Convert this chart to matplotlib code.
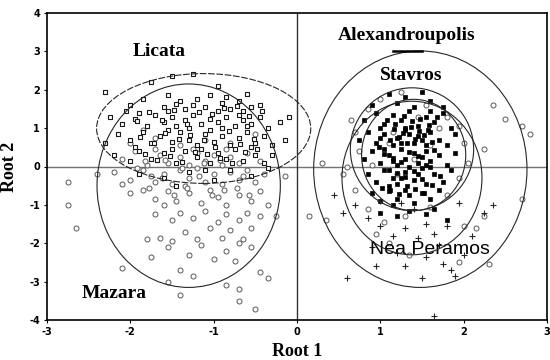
import numpy as np
import matplotlib.pyplot as plt
from matplotlib.patches import Ellipse

# group scores (root 1, root 2)
licata_x = [-1.5, -1.25, -0.95, -1.75, -2.3, -0.6, -1.05,
            -2.0, -1.85, -1.6, -1.4, -1.25, -1.1, -0.9, -0.8, -0.7, -0.55, -0.45, -1.55, -1.35, -0.95, -0.65,
            -2.25, -2.1, -1.95, -1.8, -1.7, -1.6, -1.5, -1.45, -1.35, -1.25, -1.15, -1.05, -0.95, -0.85, -0.75,
            -0.65, -0.55, -0.45, -0.35, -0.2, -1.9, -1.3, -0.9, -0.1, -2.05, -1.55, -0.7,
            -2.3, -2.15, -2.0, -1.85, -1.75, -1.65, -1.5, -1.4, -1.3, -1.2, -1.1, -1.0, -0.9, -0.8, -0.7, -0.6,
            -0.5, -0.4, -0.3, -0.15, -1.95, -1.55, -1.05, -0.55,
            -2.2, -2.0, -1.9, -1.75, -1.6, -1.45, -1.35, -1.2, -1.05, -0.95, -0.85, -0.75, -0.65, -0.5, -0.4,
            -0.3, -1.5, -1.15,
            -1.9, -1.6, -1.3, -1.0, -0.8, -0.55, -0.35, -1.45, -1.1,
            -1.92, -1.78, -1.62, -1.48, -1.32, -1.18, -1.02, -0.88, -0.72, -0.58, -0.42,
            -1.88, -1.72, -1.58, -1.42, -1.28, -1.12, -0.98, -0.82, -0.68, -0.52,
            -1.82, -1.68, -1.52, -1.38, -1.22, -1.08, -0.92, -0.78, -0.62, -0.48,
            -1.2, -0.85, -1.45, -0.6]
licata_y = [2.35, 2.4, 2.1, 2.2, 1.95, 1.9, 1.85,
            1.6, 1.75, 1.55, 1.7, 1.6, 1.55, 1.65, 1.5, 1.7, 1.55, 1.6, 1.85, 1.5, 1.45, 1.45,
            1.3, 1.1, 1.25, 1.05, 1.35, 1.15, 1.3, 1.05, 1.2, 1.35, 1.1, 1.25, 1.15, 1.3, 1.05,
            1.2, 1.1, 1.3, 1.0, 1.15, 1.4, 1.0, 1.0, 1.3, 1.45, 1.45, 1.35,
            0.6, 0.85, 0.7, 0.9, 0.6, 0.8, 0.65, 0.9, 0.7, 0.55, 0.85, 0.65, 0.8, 0.55, 0.75, 0.9,
            0.6, 0.8, 0.55, 0.7, 0.5, 0.95, 0.95, 0.5,
            0.3, 0.15, 0.4, 0.2, 0.35, 0.1, 0.4, 0.25, 0.1, 0.35, 0.2, 0.45, 0.15, 0.3, 0.1,
            0.3, 0.45, 0.45,
            -0.2, -0.3, -0.15, -0.35, -0.1, -0.25, -0.05, -0.5, -0.1,
            1.18, 1.42, 1.22, 1.48, 1.12, 1.42, 1.38, 1.52, 1.58, 1.32, 1.45,
            0.78, 0.62, 0.88, 0.72, 0.82, 0.68, 0.52, 0.92, 0.58, 0.72,
            0.32, 0.18, 0.28, 0.12, 0.38, 0.32, 0.22, 0.08, 0.38, 0.45,
            1.75, 1.82, 1.62, 1.05]

mazara_x = [-2.0, -1.7, -1.4, -1.1, -0.8, -0.5, -1.85,
            -2.1, -1.95, -1.8, -1.65, -1.55, -1.4, -1.3, -1.2, -1.1, -1.0, -0.9, -0.8, -0.7, -0.6, -0.45,
            -1.7, -1.25, -0.85,
            -2.2, -2.0, -1.85, -1.7, -1.6, -1.5, -1.4, -1.3, -1.2, -1.1, -1.0, -0.9, -0.8, -0.7, -0.6, -0.5,
            -0.4, -1.75, -1.35,
            -2.0, -1.85, -1.7, -1.55, -1.45, -1.3, -1.15, -1.05, -0.95, -0.85, -0.7, -0.55, -0.45, -0.35, -1.6,
            -1.7, -1.5, -1.4, -1.25, -1.1, -0.95, -0.85, -0.7, -0.6, -0.45, -0.25,
            -1.8, -1.65, -1.5, -1.35, -1.2, -1.05, -0.9, -0.8, -0.65, -0.55, -0.7,
            -1.75, -1.55, -1.3, -1.15, -1.0, -0.85, -0.75, -0.55,
            -2.1, -1.4, -1.25, -1.55, -0.85, -0.7, -1.4, -0.7, -0.5, -0.35, -0.45,
            -2.75, -2.75, -2.65, -2.4, -2.1, 0.15, -0.15,
            -1.92, -1.78, -1.62, -1.48, -1.32, -1.18, -1.02, -0.88, -0.72, -0.58,
            -1.82, -1.58, -1.38, -1.12, -0.92, -0.65]
mazara_y = [0.6, 0.75, 0.55, 0.7, 0.6, 0.85, 0.95,
            0.2, 0.4, 0.05, 0.3, 0.1, 0.25, 0.05, 0.35, 0.15, 0.3, 0.05, 0.25, 0.1, 0.35, 0.15,
            0.45, 0.45, 0.45,
            -0.15, -0.35, -0.1, -0.4, -0.2, -0.45, -0.1, -0.3, -0.05, -0.4, -0.2, -0.45, -0.15, -0.35, -0.1, -0.4,
            -0.2, -0.25, -0.5,
            -0.7, -0.6, -0.85, -0.65, -0.9, -0.7, -0.95, -0.6, -0.8, -1.0, -0.75, -0.9, -0.65, -1.0, -1.0,
            -1.25, -1.4, -1.2, -1.35, -1.15, -1.45, -1.25, -1.4, -1.2, -1.3, -1.3,
            -1.9, -1.85, -1.95, -1.7, -1.9, -1.6, -1.85, -1.65, -1.9, -1.6, -2.0,
            -2.35, -2.1, -2.3, -2.05, -2.4, -2.2, -2.45, -2.1,
            -2.65, -2.7, -2.85, -3.0, -3.1, -3.2, -3.35, -3.5, -3.7, -2.9, -2.75,
            -0.4, -1.0, -1.6, -0.2, -0.45, -1.3, -0.25,
            -0.05, -0.55, -0.3, -0.75, -0.55, -0.25, -0.75, -0.6, -0.55, -0.75,
            0.15, 0.18, -0.05, 0.08, 0.18, -0.25]

stavros_x = [1.1, 1.3, 1.5, 1.2, 1.4, 1.6, 0.9, 1.75,
             0.8, 0.95, 1.05, 1.15, 1.25, 1.35, 1.45, 1.55, 1.65, 1.75, 1.85, 1.0, 1.3, 1.6,
             0.75, 0.85, 0.95, 1.05, 1.15, 1.2, 1.3, 1.4, 1.45, 1.55, 1.6, 1.7, 1.8, 1.9, 1.0, 1.25, 1.5, 1.35,
             0.8, 0.9, 1.0, 1.1, 1.2, 1.25, 1.3, 1.4, 1.45, 1.55, 1.6, 1.7, 1.8, 1.9, 1.15, 1.35, 1.5, 1.05,
             0.85, 0.95, 1.05, 1.15, 1.2, 1.3, 1.4, 1.5, 1.55, 1.65, 1.75, 1.85, 1.25, 1.45, 1.1,
             0.9, 1.0, 1.1, 1.2, 1.3, 1.4, 1.5, 1.6, 1.7, 1.35, 1.15,
             1.0, 1.2, 1.35, 1.55, 1.8, 1.65,
             1.08, 1.18, 1.28, 1.38, 1.48, 1.58, 1.68, 1.12, 1.22, 1.32, 1.42, 1.52, 1.62,
             1.05, 1.15, 1.25, 1.35, 1.45, 1.55, 1.65, 1.1, 1.2, 1.3, 1.4, 1.5, 1.6,
             1.02, 1.12, 1.22, 1.32, 1.42, 1.52, 1.62, 1.17, 1.27, 1.37, 1.47, 1.57, 0.98, 1.72]
stavros_y = [1.9, 1.8, 1.95, 1.65, 1.55, 1.7, 1.6, 1.55,
             1.2, 1.4, 1.1, 1.35, 1.2, 1.45, 1.05, 1.3, 1.15, 1.4, 1.0, 1.0, 1.0, 1.45,
             0.7, 0.9, 0.6, 0.85, 0.55, 0.75, 0.95, 0.6, 0.8, 0.55, 0.9, 0.7, 0.55, 0.85, 0.75, 0.6, 0.7, 0.85,
             0.2, 0.4, 0.1, 0.3, 0.05, 0.45, 0.2, 0.35, 0.1, 0.4, 0.15, 0.3, 0.05, 0.35, 0.15, 0.0, 0.25, 0.45,
             -0.2, -0.4, -0.1, -0.3, -0.45, -0.15, -0.35, -0.05, -0.45, -0.2, -0.4, -0.1, -0.3, -0.2, -0.5,
             -0.7, -0.9, -0.65, -0.85, -0.6, -0.95, -0.7, -0.85, -0.6, -0.75, -1.0,
             -1.2, -1.3, -1.15, -1.25, -1.4, -1.1,
             1.22, 1.12, 1.32, 1.18, 1.25, 1.08, 1.28, 0.68, 0.78, 0.62, 0.72, 0.82, 0.65,
             0.32, 0.22, 0.12, 0.38, 0.28, 0.05, 0.42, -0.08, -0.18, -0.28, -0.12, -0.32, -0.02,
             -0.55, -0.62, -0.72, -0.5, -0.58, -0.68, -0.48, 0.98, 0.88, 1.02, 0.92, 0.96, 0.5, -0.25]

alex_x = [0.65, 0.7, 0.75, 0.6, 0.55, 0.85, 1.0, 1.25, 1.55, 1.8, 1.95, 2.0, 2.05, 1.95, 1.8, 1.6,
          1.3, 1.05, 0.85, 0.7, 1.1, 1.4, 1.6, 1.2, 0.9, 1.7, 1.45, 1.15,
          2.35, 2.5, 2.7, 2.8, 2.25, 2.7, 2.15, 2.0, 1.1, 0.95, 1.35, 1.95, 2.3, 0.35, 0.3, 2.25]
alex_y = [1.2, 0.9, 0.4, 0.0, -0.2, 1.5, 1.75, 1.95, 1.6, 1.3, 1.05, 0.6, 0.1, -0.3, -0.75, -1.05,
          -1.3, -1.45, -1.1, -0.6, 0.6, 0.2, 0.55, -0.2, 0.05, 1.0, 1.3, 0.9,
          1.6, 1.25, 1.05, 0.85, 0.45, -0.85, -1.6, -1.55, -2.0, -1.75, -2.3, -2.5, -2.55, -1.4, 0.1, -1.3]

nea_x = [0.7, 0.85, 1.0, 1.15, 1.3, 1.45, 1.55, 1.65, 1.8, 1.7, 1.55, 1.75, 1.85, 1.9, 1.2, 0.9,
         1.3, 2.25, 2.35, 0.55, 1.0, 1.4, 1.25, 0.6, 1.65, 1.95, 2.0, 2.1, 0.95, 1.5, 0.45]
nea_y = [-1.0, -1.35, -1.55, -1.8, -1.6, -1.85, -1.5, -1.75, -1.55, -2.05, -2.35, -2.55, -2.7, -2.85,
         -2.25, -2.1, -2.6, -1.2, -1.0, -1.2, -0.9, -1.1, -0.95, -2.9, -3.9, -0.95, -2.3, -1.8, -2.6,
         -2.9, -0.75]

x_ticks = [-3, -2, -1, 0, 1, 2, 3]
y_ticks = [4, 3, 2, 1, 0, -1, -2, -3, -4]

serif = ['Liberation Serif', 'DejaVu Serif']

fig = plt.figure(figsize=(5.5, 3.6), dpi=100)
ax = fig.add_axes([0.0855, 0.111, 0.909, 0.853])

ax.axhline(0, color='0.45', lw=1.0, zorder=1)
ax.axvline(0, color='0.2', lw=1.0, zorder=1)

ax.scatter(mazara_x, mazara_y, s=13, marker='o', facecolors='white', edgecolors='0.35', linewidths=0.7, zorder=2)
ax.scatter(licata_x, licata_y, s=12, marker='s', facecolors='white', edgecolors='0.1', linewidths=0.8, zorder=3)
ax.scatter(alex_x, alex_y, s=13, marker='o', facecolors='white', edgecolors='0.35', linewidths=0.7, zorder=2)
ax.scatter(stavros_x, stavros_y, s=11, marker='s', facecolors='black', edgecolors='black', linewidths=0.5, zorder=3)
ax.scatter(nea_x, nea_y, s=16, marker='+', color='0.15', linewidths=0.8, zorder=3)

# confidence ellipses
ells = [((-1.12, 0.99), 2.57, 2.86, (0, (6, 1.5))),
        ((-1.3, -0.5), 2.2, 5.3, '-'),
        ((1.48, -0.07), 2.56, 6.16, '-'),
        ((1.38, 0.45), 1.48, 3.2, '-'),
        ((1.38, -0.3), 1.68, 4.0, '-'),
        ((1.4, 0.3), 1.25, 2.9, '-')]
for c, w, h, ls in ells:
    ax.add_patch(Ellipse(c, w, h, fill=False, ec='0.15', lw=0.8, ls=ls, zorder=4))

ax.plot([1.15, 1.5], [3.02, 3.02], color='black', lw=1.8, zorder=5)

ax.text(-1.65, 3.0, 'Licata', family=serif, weight='bold', fontsize=14, ha='center', va='center')
ax.text(1.32, 3.42, 'Alexandroupolis', family=serif, weight='bold', fontsize=14, ha='center', va='center')
ax.text(1.37, 2.37, 'Stavros', family=serif, weight='bold', fontsize=14, ha='center', va='center')
ax.text(1.6, -2.16, 'Nea Peramos', family=['Liberation Sans', 'DejaVu Sans'], fontsize=14,
        ha='center', va='center')
ax.text(-2.2, -3.3, 'Mazara', family=serif, weight='bold', fontsize=14, ha='center', va='center')

ax.set_xlim(-3, 3)
ax.set_ylim(-4, 4)
ax.set_xticks(x_ticks)
ax.set_yticks(y_ticks)
ax.set_xticklabels([str(t) for t in x_ticks], fontsize=7, weight='bold')
ax.set_yticklabels([str(t) for t in y_ticks], fontsize=7, weight='bold')
ax.tick_params(direction='out', length=2, width=0.8, pad=3)
for s in ax.spines.values():
    s.set_linewidth(1.2)

ax.set_xlabel('Root 1', family=serif, weight='bold', fontsize=13, labelpad=4)
ax.set_ylabel('Root 2', family=serif, weight='bold', fontsize=13, labelpad=8)

fig.savefig('out.png', dpi=100)
